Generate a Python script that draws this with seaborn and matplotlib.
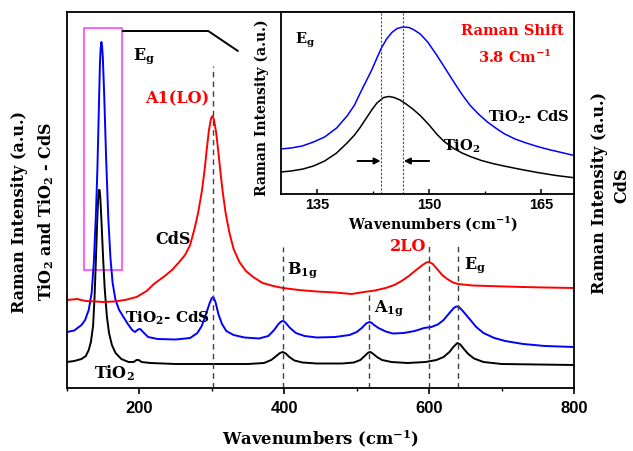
import matplotlib
matplotlib.use('Agg')
import matplotlib.pyplot as plt
import seaborn as sns
from matplotlib.patches import Rectangle
from matplotlib.ticker import FixedLocator

# ---------------- data ----------------
tio2_x = [100, 110, 120, 126, 130, 133, 136, 138, 140, 141, 142, 143, 144, 145, 146, 147, 148, 150, 152, 155, 158, 162, 167,
          175, 185, 192, 196, 199, 203, 215, 250, 300, 350, 372, 382, 389, 394, 398, 402, 407, 414, 425, 445,
          480, 496, 505, 511, 516, 519, 523, 528, 535, 548, 570, 595, 610, 620, 628, 634, 639, 643, 648, 654,
          662, 675, 700, 750, 800]
tio2_y = [26, 27, 29, 32, 38, 46, 62, 90, 130, 152, 172, 189, 198, 198, 190, 176, 160, 128, 100, 72, 55, 43, 35,
          29, 26, 26, 28, 28, 26, 25, 24, 24, 24, 25, 28, 32, 35, 36, 34.5, 31, 27.5, 25.5, 24.5,
          24.5, 25.5, 28, 32, 35.5, 36, 34, 31, 28, 26, 25, 26, 28, 31, 36, 41.5, 45, 43.5, 39, 34,
          29.5, 26, 24, 23.5, 23]

tc_x = [100, 110, 120, 125, 130, 134, 137, 140, 142, 144, 145.5, 146.5, 147.5, 148.5, 149.5, 151.5, 154, 157, 160, 163, 167, 172,
        178, 184, 190, 194, 198, 201, 205, 212, 225, 250, 270, 280, 286, 292, 297, 300, 302, 305, 309, 314, 320,
        330, 345, 365, 378, 386, 392, 395, 397, 400, 402, 408, 416, 428, 445, 470, 490, 500, 507, 513, 516, 518, 521, 523, 530,
        540, 550, 565, 580, 593, 603, 612, 620, 628, 634, 637, 639, 641, 644, 650, 657, 665, 675, 690, 705, 730, 760, 800]
tc_y = [56, 57.5, 63, 68, 78, 95, 125, 175, 220, 280, 325, 340, 346, 341, 330, 290, 230, 170, 130, 105, 88, 78,
        71, 64, 58, 56, 58.5, 59, 56, 51, 49, 48.5, 50, 55, 62, 74, 85, 90, 91, 86, 74, 64, 57,
        53, 50.5, 49.5, 52, 58, 64, 66, 67, 66.5, 65, 60, 55, 52, 50.5, 51, 53, 56, 60, 64.5, 65.5, 66, 65, 63.5, 60,
        56.5, 54.5, 55, 57, 60, 61, 63.5, 68, 75, 80, 81.3, 81.5, 81, 79, 74, 68, 61, 55, 50, 47, 44, 42, 41]

cds_x = [100, 114, 126, 140, 150, 165, 180, 196, 210, 220, 235, 245, 255, 263, 270, 276, 281, 286, 290, 293,
         296, 299, 301, 303, 306, 309, 312, 315, 319, 324, 330, 338, 347, 357, 370, 385, 398, 420, 445, 470,
         493, 510, 525, 540, 552, 562, 572, 582, 590, 596, 600, 605, 611, 618, 625, 633, 640, 660, 681, 705,
         729, 760, 800]
cds_y = [88, 89, 87, 86.5, 86, 86.5, 88, 91, 97, 104, 112, 118, 126, 133, 143, 159, 175, 196, 218, 239,
         258, 270, 272, 268, 255, 236, 215, 196, 175, 156, 139, 126, 117, 111, 105, 102, 100, 98, 96.5, 95.5,
         94, 96, 97.5, 100, 103, 107, 112, 118, 122.5, 125.5, 126, 124, 119, 113, 109, 105.5, 104, 102.5, 102, 101.5,
         101, 100.5, 100]

# inset (Eg region)
in_tc_x = [130.1, 131.5, 133, 134.5, 136, 137.6, 139, 140, 140.7, 141.5, 142.3, 143, 143.6, 144.3, 145, 145.7,
           146.5, 147.3, 148, 148.8, 149.8, 151, 152.2, 153.3, 154.4, 155.5, 156.6, 157.8, 159, 160, 161.5,
           163, 164.5, 166, 168, 169.7]
in_tc_y = [45, 46, 48, 52, 57, 66, 78, 89, 100, 112, 124, 136, 146, 155, 161.5, 165.5,
           167, 166.5, 164, 160, 152, 139, 125, 112, 99.5, 88.5, 80, 72, 65.5, 60.5, 55,
           51, 47.5, 44.5, 41, 38]
in_tio2_x = [130.1, 131.5, 133.1, 134.5, 136, 137.6, 139, 140, 140.7, 141.5, 142.3, 143, 143.9, 144.6, 145.3,
             146.1, 146.9, 147.8, 148.8, 150, 151, 152, 153.3, 154.4, 155.5, 157, 158.5, 160, 162, 164.5,
             167, 169.7]
in_tio2_y = [22, 23, 25, 28, 33, 41, 51, 59, 66, 75, 84, 91, 96.5, 97.5, 96.5,
             94, 90, 85, 78.5, 69, 60, 52.5, 45.5, 41, 37.5, 33.5, 30.5, 28, 25, 21.5,
             18.5, 16]

# mode markers (dashed lines)
mode_x = [302, 398, 517, 600, 640]
mode_top = [322, 141, 96, 146, 142]
shift_x = [143.6, 146.5]

# ---------------- style ----------------
sns.set_style('ticks')
plt.rcParams['font.family'] = ['DejaVu Serif']
plt.rcParams['font.weight'] = 'bold'
plt.rcParams['text.color'] = 'black'
plt.rcParams['axes.edgecolor'] = 'black'
plt.rcParams['xtick.color'] = 'black'
plt.rcParams['ytick.color'] = 'black'
plt.rcParams['mathtext.fontset'] = 'custom'
plt.rcParams['mathtext.rm'] = 'DejaVu Serif:bold'
plt.rcParams['mathtext.it'] = 'DejaVu Serif:bold'
plt.rcParams['mathtext.bf'] = 'DejaVu Serif:bold'
plt.rcParams['mathtext.sf'] = 'DejaVu Serif'

W, H = 633, 452
fig = plt.figure(figsize=(W / 100, H / 100), dpi=100)


def fx(px):
    return px / W


def fy(py):
    return 1 - py / H


BLUE = '#0000FF'
RED = '#FF0000'

# ---------------- main axes ----------------
ax = fig.add_axes([fx(67), fy(389), (574 - 67) / W, (389 - 12.7) / H])
sns.lineplot(x=tio2_x, y=tio2_y, ax=ax, color='black', lw=1.4, estimator=None)
sns.lineplot(x=tc_x, y=tc_y, ax=ax, color=BLUE, lw=1.4, estimator=None)
sns.lineplot(x=cds_x, y=cds_y, ax=ax, color=RED, lw=1.4, estimator=None)
ax.vlines(mode_x, 0, mode_top, colors='0.25', linestyles=(0, (4, 3)), lw=1.0)

ax.set_xlim(100, 800)
ax.set_ylim(0, 376.3)
ax.set_yticks([])
ax.xaxis.set_major_locator(FixedLocator([200, 400, 600, 800]))
ax.xaxis.set_minor_locator(FixedLocator([100, 300, 500, 700]))
ax.tick_params(axis='x', which='major', direction='out', length=4.5, width=1.2, pad=4)
ax.tick_params(axis='x', which='minor', direction='out', length=2.5, width=1.0)
for lab in ax.get_xticklabels():
    lab.set_fontfamily('Liberation Sans')
    lab.set_fontweight('bold')
    lab.set_fontsize(12)
for s in ax.spines.values():
    s.set_linewidth(1.3)
    s.set_visible(True)
    s.set_color('black')
ax.set_xlabel('')
ax.set_ylabel('')

# magenta box and connector
ax.add_patch(Rectangle((123.5, 118), 52.5, 242, fill=False, edgecolor='#FF44FF', lw=1.2))
ax.plot([177, 295, 336], [357, 357, 337], color='black', lw=1.4)

TXT = dict(fontweight='bold', fontsize=11.5, color='black')
fig.text(fx(133), fy(56), r'E$_\mathrm{g}$', ha='left', va='center', **TXT)
fig.text(fx(177), fy(99), 'A1(LO)', ha='center', va='center', **{**TXT, 'color': RED})
fig.text(fx(173), fy(240), 'CdS', ha='center', va='center', **TXT)
fig.text(fx(125), fy(318), r'TiO$_2$- CdS', ha='left', va='center', **{**TXT, 'fontsize': 11})
fig.text(fx(94), fy(373), r'TiO$_2$', ha='left', va='center', **TXT)
fig.text(fx(287), fy(270), r'B$_\mathrm{1g}$', ha='left', va='center', **TXT)
fig.text(fx(374), fy(308), r'A$_\mathrm{1g}$', ha='left', va='center', **TXT)
fig.text(fx(408), fy(247), '2LO', ha='center', va='center', **{**TXT, 'color': RED})
fig.text(fx(464), fy(265), r'E$_\mathrm{g}$', ha='left', va='center', **TXT)

fig.text(fx(321), fy(439), r'Wavenumbers (cm$^{-1}$)', ha='center', va='center', fontweight='bold',
         fontsize=11.8, color='black')
fig.text(fx(20), fy(212), 'Raman Intensity (a.u.)', rotation=90, ha='center', va='center',
         fontweight='bold', fontsize=11.5, color='black')
fig.text(fx(46), fy(211), r'TiO$_2$ $\mathsf{and}$ TiO$_2$ - CdS', rotation=90, ha='center', va='center',
         fontweight='bold', fontsize=11.5, color='black')
fig.text(fx(599), fy(193), 'Raman Intensity (a.u.)', rotation=90, ha='center', va='center',
         fontweight='bold', fontsize=11.5, color='black')
fig.text(fx(622), fy(185), 'CdS', rotation=90, ha='center', va='center',
         fontweight='bold', fontsize=11.5, color='black')

# ---------------- inset ----------------
ax2 = fig.add_axes([fx(281), fy(195), (574 - 281) / W, (195 - 12.7) / H])
ax2.set_facecolor('white')
sns.lineplot(x=in_tc_x, y=in_tc_y, ax=ax2, color=BLUE, lw=1.1, estimator=None)
sns.lineplot(x=in_tio2_x, y=in_tio2_y, ax=ax2, color='black', lw=1.1, estimator=None)
for xv in shift_x:
    ax2.axvline(xv, color='0.3', lw=0.8, ls=(0, (2, 1.5)))
ax2.annotate('', xy=(143.5, 33), xytext=(140.4, 33),
             arrowprops=dict(arrowstyle='-|>', color='black', lw=1.4, mutation_scale=9, shrinkA=0, shrinkB=0))
ax2.annotate('', xy=(146.6, 33), xytext=(150.0, 33),
             arrowprops=dict(arrowstyle='-|>', color='black', lw=1.4, mutation_scale=9, shrinkA=0, shrinkB=0))
ax2.set_xlim(130.15, 169.4)
ax2.set_ylim(0, 182.3)
ax2.set_yticks([])
ax2.xaxis.set_major_locator(FixedLocator([135, 150, 165]))
ax2.xaxis.set_minor_locator(FixedLocator([142.5, 157.5]))
ax2.tick_params(axis='x', which='major', direction='in', length=3.5, width=1.1, pad=2.5)
ax2.tick_params(axis='x', which='minor', direction='in', length=2, width=1.0)
for lab in ax2.get_xticklabels():
    lab.set_fontfamily('Liberation Sans')
    lab.set_fontweight('bold')
    lab.set_fontsize(10.5)
for s in ax2.spines.values():
    s.set_linewidth(1.3)
    s.set_color('black')
ax2.set_xlabel('')
ax2.set_ylabel('')

ITXT = dict(fontweight='bold', fontsize=10.5, color='black')
fig.text(fx(295), fy(40), r'E$_\mathrm{g}$', ha='left', va='center', **ITXT)
fig.text(fx(512), fy(31), 'Raman Shift', ha='center', va='center', **{**ITXT, 'color': RED})
fig.text(fx(478), fy(57), r'3.8 Cm$^{-1}$', ha='left', va='center', **{**ITXT, 'color': RED})
fig.text(fx(488), fy(117), r'TiO$_2$- CdS', ha='left', va='center', **ITXT)
fig.text(fx(443), fy(146), r'TiO$_2$', ha='left', va='center', **ITXT)
fig.text(fx(433), fy(224), r'Wavenumbers (cm$^{-1}$)', ha='center', va='center', fontweight='bold',
         fontsize=10.2, color='black')
fig.text(fx(262), fy(108), 'Raman Intensity (a.u.)', rotation=90, ha='center', va='center',
         fontweight='bold', fontsize=10, color='black')

fig.savefig('out.png', dpi=100)
